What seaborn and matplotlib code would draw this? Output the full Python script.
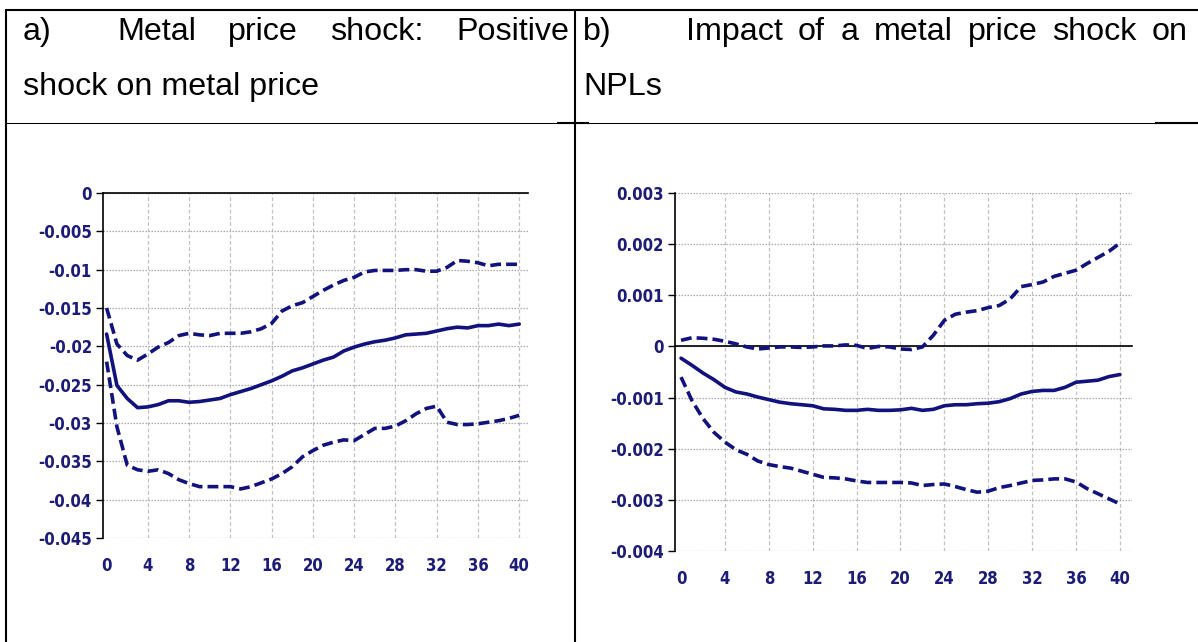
import numpy as np
import pandas as pd
import matplotlib
matplotlib.use("Agg")
import matplotlib.pyplot as plt
from matplotlib.lines import Line2D
import seaborn as sns

# ---------------------------------------------------------------- data
horizon = list(range(41))

# a) response of metal price to a positive metal price shock
metal_irf = [-0.0184, -0.0251, -0.0268, -0.0280, -0.0279, -0.0276, -0.0271, -0.0271,
             -0.0273, -0.0272, -0.0270, -0.0268, -0.0263, -0.0259, -0.0255, -0.0250,
             -0.0245, -0.0239, -0.0232, -0.0228, -0.0223, -0.0218, -0.0214, -0.0206,
             -0.0201, -0.0197, -0.0194, -0.0192, -0.0189, -0.0185, -0.0184, -0.0183,
             -0.0180, -0.0177, -0.0175, -0.0176, -0.0173, -0.0173, -0.0171, -0.0173,
             -0.0171]
metal_upper = [-0.0150, -0.0197, -0.0212, -0.0218, -0.0210, -0.0201, -0.0195, -0.0186,
               -0.0183, -0.0185, -0.0186, -0.0183, -0.0183, -0.0183, -0.0181, -0.0177,
               -0.0170, -0.0154, -0.0147, -0.0143, -0.0135, -0.0127, -0.0120, -0.0114,
               -0.0110, -0.0103, -0.0101, -0.0101, -0.0101, -0.0100, -0.0100, -0.0102,
               -0.0102, -0.0097, -0.0088, -0.0089, -0.0091, -0.0095, -0.0093, -0.0093,
               -0.0093]
metal_lower = [-0.0220, -0.0305, -0.0355, -0.0361, -0.0363, -0.0361, -0.0366, -0.0374,
               -0.0379, -0.0383, -0.0383, -0.0383, -0.0383, -0.0386, -0.0383, -0.0378,
               -0.0373, -0.0366, -0.0357, -0.0344, -0.0336, -0.0329, -0.0325, -0.0322,
               -0.0323, -0.0315, -0.0307, -0.0307, -0.0304, -0.0297, -0.0288, -0.0281,
               -0.0278, -0.0299, -0.0302, -0.0302, -0.0301, -0.0299, -0.0297, -0.0294,
               -0.0290]

# b) response of NPLs to the metal price shock
npl_irf = [-0.00023, -0.00037, -0.00052, -0.00065, -0.00080, -0.00089, -0.00093, -0.00099,
           -0.00104, -0.00109, -0.00112, -0.00114, -0.00116, -0.00122, -0.00123, -0.00125,
           -0.00125, -0.00123, -0.00125, -0.00125, -0.00124, -0.00121, -0.00125, -0.00123,
           -0.00116, -0.00114, -0.00114, -0.00112, -0.00111, -0.00108, -0.00102, -0.00093,
           -0.00088, -0.00086, -0.00086, -0.00080, -0.00070, -0.00068, -0.00066, -0.00059,
           -0.00055]
npl_upper = [0.00012, 0.00017, 0.00016, 0.00014, 0.00010, 0.00005, -0.00001, -0.00005,
             -0.00003, -0.00001, -0.00001, -0.00002, -0.00001, 0.00001, 0.00001, 0.00003,
             0.00002, -0.00004, 0.00000, -0.00001, -0.00005, -0.00006, -0.00001, 0.00022,
             0.00051, 0.00063, 0.00067, 0.00070, 0.00076, 0.00080, 0.00093, 0.00117,
             0.00121, 0.00126, 0.00137, 0.00143, 0.00149, 0.00162, 0.00174, 0.00186,
             0.00202]
npl_lower = [-0.00060, -0.00106, -0.00141, -0.00168, -0.00187, -0.00202, -0.00211, -0.00224,
             -0.00231, -0.00235, -0.00238, -0.00244, -0.00250, -0.00256, -0.00257, -0.00259,
             -0.00263, -0.00266, -0.00266, -0.00266, -0.00266, -0.00267, -0.00272, -0.00270,
             -0.00269, -0.00274, -0.00280, -0.00285, -0.00283, -0.00276, -0.00272, -0.00267,
             -0.00262, -0.00261, -0.00259, -0.00259, -0.00265, -0.00278, -0.00288, -0.00298,
             -0.00308]

x_ticks = list(range(0, 41, 4))
x_tick_labels = [str(t) for t in x_ticks]

metal_y_ticks = [0, -0.005, -0.01, -0.015, -0.02, -0.025, -0.03, -0.035, -0.04, -0.045]
metal_y_labels = ["0", "-0.005", "-0.01", "-0.015", "-0.02", "-0.025", "-0.03",
                  "-0.035", "-0.04", "-0.045"]
npl_y_ticks = [0.003, 0.002, 0.001, 0, -0.001, -0.002, -0.003, -0.004]
npl_y_labels = ["0.003", "0.002", "0.001", "0", "-0.001", "-0.002", "-0.003", "-0.004"]

header_a_label = "a)"
header_a_line1 = ["Metal", "price", "shock:", "Positive"]
header_a_line2 = "shock on metal price"
header_b_label = "b)"
header_b_line1 = ["Impact", "of", "a", "metal", "price", "shock", "on"]
header_b_line2 = "NPLs"

# ---------------------------------------------------------------- style
sns.set_style("white")
plt.rcParams["font.family"] = ["Liberation Sans", "DejaVu Sans"]

NAVY = "#12127e"
LABEL_NAVY = "#1c1c78"
TICK_FONT = dict(family=["DejaVu Sans"], stretch="condensed", weight="bold", size=12)

W, H = 1198, 642
fig = plt.figure(figsize=(W / 100, H / 100), dpi=100)


def fx(px):
    return px / W


def fy(py):
    return 1 - py / H


def panel(rect_px, irf, upper, lower, xlim, ylim, yticks, ylabels):
    left, top, right, bottom = rect_px
    ax = fig.add_axes([fx(left), fy(bottom), fx(right - left), (bottom - top) / H])
    df = pd.concat([
        pd.DataFrame({"horizon": horizon, "value": irf, "band": "irf"}),
        pd.DataFrame({"horizon": horizon, "value": upper, "band": "upper"}),
        pd.DataFrame({"horizon": horizon, "value": lower, "band": "lower"}),
    ])
    sns.lineplot(data=df, x="horizon", y="value", style="band",
                 dashes={"irf": "", "upper": (3.0, 1.4), "lower": (3.0, 1.4)},
                 color=NAVY, linewidth=2.6, legend=False, ax=ax, zorder=3)
    ax.set_xlim(*xlim)
    ax.set_ylim(*ylim)
    ax.set_xlabel("")
    ax.set_ylabel("")

    # grid: dotted horizontals, dashed verticals
    ax.set_yticks(yticks)
    ax.set_yticklabels(ylabels, color=LABEL_NAVY, **TICK_FONT)
    ax.set_xticks(x_ticks)
    ax.yaxis.grid(True, linestyle=(0, (1.2, 1.2)), color="#a9a9a9", linewidth=0.9)
    ax.xaxis.grid(True, linestyle=(0, (3, 2)), color="#c2c2c2", linewidth=0.9)
    ax.set_axisbelow(True)

    for side in ("top", "right"):
        ax.spines[side].set_visible(False)
    ax.spines["left"].set_color("black")
    ax.spines["left"].set_linewidth(1.2)
    # horizontal axis crosses at zero
    ax.spines["bottom"].set_position(("data", 0))
    ax.spines["bottom"].set_color("black")
    ax.spines["bottom"].set_linewidth(1.2)
    ax.tick_params(axis="x", direction="out", length=4, width=1, color="black",
                   labelbottom=False)
    ax.tick_params(axis="y", direction="out", length=5, width=1, color="black", pad=3,
                   left=True)

    # category labels sit at the bottom of the plot area
    sec = ax.secondary_xaxis("bottom")
    sec.set_xticks(x_ticks)
    sec.set_xticklabels(x_tick_labels, color=LABEL_NAVY, **TICK_FONT)
    sec.tick_params(length=0, pad=14)
    sec.spines["bottom"].set_visible(False)

    fig.canvas.draw()
    ax.get_xgridlines()[0].set_visible(False)
    return ax


panel((103, 193, 528, 538), metal_irf, metal_upper, metal_lower,
      (-0.35, 40.85), (-0.045, 0), metal_y_ticks, metal_y_labels)
panel((675, 193, 1132, 551), npl_irf, npl_upper, npl_lower,
      (-0.55, 41.1), (-0.004, 0.003), npl_y_ticks, npl_y_labels)

# ---------------------------------------------------------------- table frame
def hline(y, x0, x1, lw):
    fig.add_artist(Line2D([fx(x0), fx(x1)], [fy(y), fy(y)], color="black",
                          linewidth=lw, solid_capstyle="butt"))


def vline(x, y0, y1, lw):
    fig.add_artist(Line2D([fx(x), fx(x)], [fy(y0), fy(y1)], color="black",
                          linewidth=lw, solid_capstyle="butt"))


hline(10, 5, W, 1.5)
vline(5.5, 9.5, H, 1.5)
vline(575, 9.5, H, 1.5)
hline(122.5, 5, W, 0.75)
hline(122.5, 557, 589, 1.5)
hline(122.5, 1155, W, 1.5)

# ---------------------------------------------------------------- headers
HEAD_SIZE = 23.2
renderer = fig.canvas.get_renderer()


def head(x, y, s):
    return fig.text(fx(x), fy(y), s, fontsize=HEAD_SIZE, ha="left", va="baseline",
                    color="black")


def justified(words, x0, x1, y):
    texts = [head(0, y, w) for w in words]
    widths = [t.get_window_extent(renderer=renderer).width for t in texts]
    gap = (x1 - x0 - sum(widths)) / (len(words) - 1)
    x = x0
    for t, w in zip(texts, widths):
        t.set_x(fx(x))
        x += w + gap


head(23, 40, header_a_label)
justified(header_a_line1, 117, 569, 40)
head(23, 95, header_a_line2)
head(583, 40, header_b_label)
justified(header_b_line1, 686, 1188, 40)
head(583, 95, header_b_line2)

fig.savefig("out.png", dpi=100)
